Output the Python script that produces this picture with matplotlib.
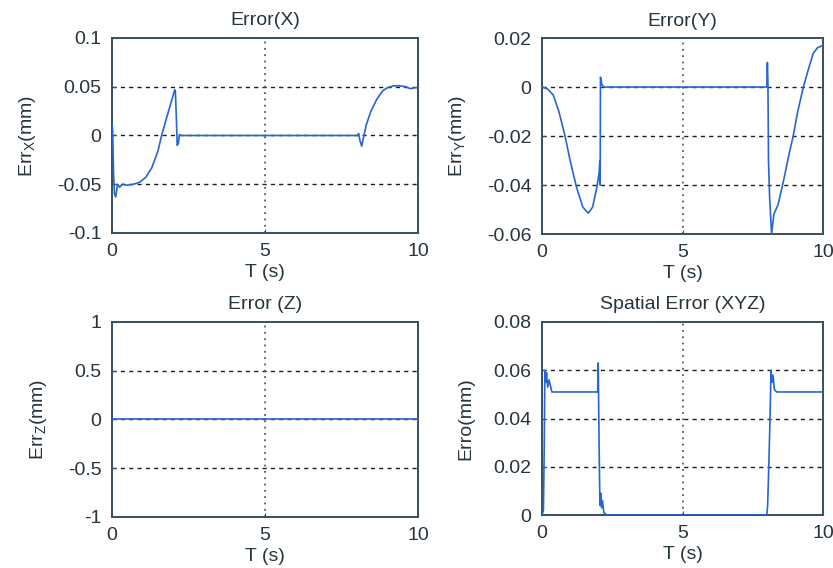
import matplotlib
matplotlib.use("Agg")
import matplotlib.pyplot as plt

# ---------------- data ----------------
xticks = [0, 5, 10]

# Error(X)
tx = [0, 0.02, 0.05, 0.08, 0.12, 0.18, 0.25, 0.35, 0.5, 0.7, 0.9, 1.1, 1.3, 1.5,
      1.62, 1.8, 1.95, 2.05, 2.07, 2.1, 2.13, 2.17, 2.2, 2.25, 8.02, 8.06, 8.1,
      8.16, 8.2, 8.3, 8.45, 8.65, 8.85, 9.0, 9.2, 9.4, 9.6, 9.75, 9.9, 10]
ex = [0.012, 0.005, -0.04, -0.06, -0.063, -0.05, -0.053, -0.05, -0.051, -0.05,
      -0.048, -0.043, -0.033, -0.016, 0.0, 0.02, 0.036, 0.047, 0.045, 0.02,
      -0.01, -0.008, 0.001, 0.0, 0.0, 0.002, -0.005, -0.011, -0.005, 0.01,
      0.024, 0.037, 0.046, 0.049, 0.051, 0.051, 0.050, 0.048, 0.049, 0.049]
yticks_x = [-0.1, -0.05, 0, 0.05, 0.1]
ylabels_x = ["-0.1", "-0.05", "0", "0.05", "0.1"]

# Error(Y)
ty = [0, 0.2, 0.4, 0.6, 0.82, 1.0, 1.23, 1.45, 1.65, 1.8, 1.95, 2.03, 2.06,
      2.07, 2.08, 2.1, 2.13, 2.2, 8.0, 8.02, 8.04, 8.06, 8.1, 8.17, 8.25, 8.4,
      8.6, 8.8, 8.94, 9.1, 9.3, 9.5, 9.65, 9.8, 9.95]
ey = [0.0, -0.0008, -0.0033, -0.010, -0.020, -0.030, -0.041, -0.049, -0.0515,
      -0.049, -0.041, -0.035, -0.030, -0.040, 0.004, 0.003, 0.001, 0.0, 0.0,
      0.010, 0.002, -0.030, -0.045, -0.060, -0.052, -0.048, -0.038, -0.027,
      -0.020, -0.010, 0.0, 0.008, 0.0137, 0.016, 0.0168]
yticks_y = [-0.06, -0.04, -0.02, 0, 0.02]
ylabels_y = ["-0.06", "-0.04", "-0.02", "0", "0.02"]

# Error(Z)
tz = [0, 10]
ez = [0.0, 0.0]
yticks_z = [-1, -0.5, 0, 0.5, 1]
ylabels_z = ["-1", "-0.5", "0", "0.5", "1"]

# Spatial error (XYZ)
ts = [0, 0.05, 0.08, 0.1, 0.13, 0.16, 0.2, 0.25, 0.35, 1.98, 2.0, 2.03, 2.06,
      2.09, 2.12, 2.15, 2.2, 2.3, 8.0, 8.03, 8.07, 8.11, 8.15, 8.18, 8.22,
      8.27, 8.35, 10]
es = [0.0, 0.002, 0.03, 0.060, 0.055, 0.059, 0.053, 0.056, 0.051, 0.051,
      0.063, 0.03, 0.004, 0.009, 0.003, 0.006, 0.001, 0.0, 0.0, 0.004, 0.02,
      0.038, 0.060, 0.055, 0.058, 0.052, 0.051, 0.051]
yticks_s = [0, 0.02, 0.04, 0.06, 0.08]
ylabels_s = ["0", "0.02", "0.04", "0.06", "0.08"]

# ---------------- drawing ----------------
plt.rcParams['font.family'] = ['Liberation Sans', 'DejaVu Sans']
plt.rcParams['mathtext.fontset'] = 'custom'
plt.rcParams['mathtext.rm'] = 'Liberation Sans'
plt.rcParams['mathtext.it'] = 'Liberation Sans'

fig = plt.figure(figsize=(8.33, 5.68), dpi=100)
line_color = "#2566d2"
spine_color = "#35505f"
text_color = "#26343c"
FS = 14

panels = [
    ([0.1345, 0.5898, 0.3673, 0.3433], tx, ex, (-0.1, 0.1), yticks_x, ylabels_x,
     "Error(X)", r"Err$_{X}$(mm)"),
    ([0.6507, 0.5880, 0.3373, 0.3450], ty, ey, (-0.06, 0.02), yticks_y, ylabels_y,
     "Error(Y)", r"Err$_{Y}$(mm)"),
    ([0.1345, 0.0898, 0.3673, 0.3433], tz, ez, (-1, 1), yticks_z, ylabels_z,
     "Error (Z)", r"Err$_{Z}$(mm)"),
    ([0.6507, 0.0933, 0.3373, 0.3398], ts, es, (0, 0.08), yticks_s, ylabels_s,
     "Spatial Error (XYZ)", "Erro(mm)"),
]

for rect, t, v, ylim, yt, ytl, title, ylabel in panels:
    ax = fig.add_axes(rect)
    ax.plot(t, v, color=line_color, lw=1.2, zorder=3)
    ax.set_xlim(0, 10)
    ax.set_ylim(*ylim)
    ax.set_xticks(xticks)
    ax.set_xticklabels([str(x) for x in xticks])
    ax.set_yticks(yt)
    ax.set_yticklabels(ytl)
    for y in yt[1:-1]:
        ax.axhline(y, color="#1e1e1e", lw=1.0, ls=(0, (3, 3)), zorder=1)
    ax.axvline(5, color="#40607a", lw=1.3, ls=(0, (1, 2.5)), zorder=1)
    ax.tick_params(direction="in", length=3, colors=spine_color,
                   labelcolor=text_color, labelsize=FS)
    ax.tick_params(axis="x", pad=7)
    ax.tick_params(axis="y", pad=7.5)
    for s in ax.spines.values():
        s.set_color(spine_color)
        s.set_linewidth(1.4)
    ax.set_title(title, fontsize=FS, color=text_color, pad=9)
    ax.set_xlabel("T (s)", fontsize=FS, color=text_color, labelpad=3)
    ax.set_ylabel(ylabel, fontsize=FS, color=text_color, labelpad=14)

fig.savefig("out.png", dpi=100)
